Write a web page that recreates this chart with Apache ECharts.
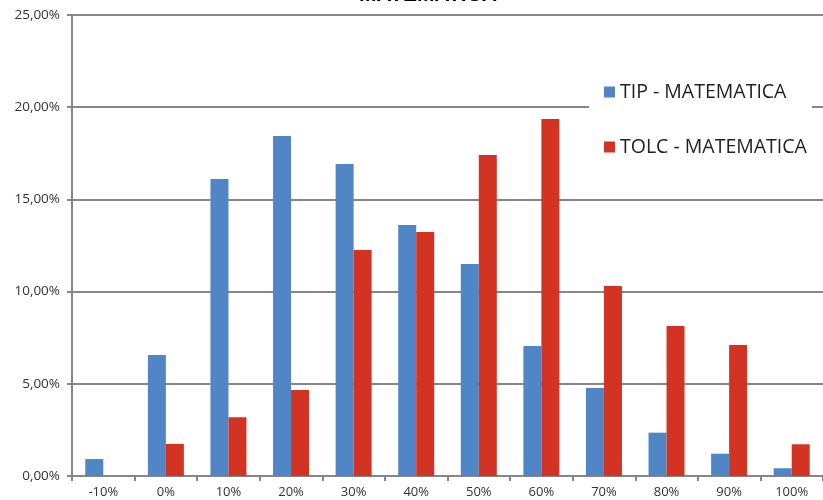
<!DOCTYPE html>
<html><head><meta charset="utf-8">
<script src="https://cdn.jsdelivr.net/npm/echarts@6/dist/echarts.min.js"></script>
<style>html,body{margin:0;padding:0;background:#fff}#c{width:823px;height:500px}</style>
</head><body><div id="c"></div>
<script>
const categories = ['-10%','0%','10%','20%','30%','40%','50%','60%','70%','80%','90%','100%'];
const tipValues = [0.92, 6.56, 16.10, 18.44, 16.92, 13.61, 11.50, 7.05, 4.77, 2.35, 1.21, 0.42];
const tolcValues = [0, 1.74, 3.18, 4.66, 12.26, 13.23, 17.41, 19.36, 10.30, 8.13, 7.10, 1.72];
const seriesNames = ['TIP - MATEMATICA', 'TOLC - MATEMATICA'];
const titleText = 'MATEMATICA';

const chart = echarts.init(document.getElementById('c'));
const font = '"Open Sans", Lato, sans-serif';
chart.setOption({
  animation: false,
  title: { text: titleText, left: 423, textAlign: 'center', top: -20,
    textStyle: { fontFamily: 'Liberation Sans', fontWeight: 'bold', fontSize: 21, color: '#000' } },
  legend: {
    orient: 'vertical', left: 589, top: 78, itemGap: 35,
    itemWidth: 11, itemHeight: 11, icon: 'rect',
    backgroundColor: '#fff', padding: [4, 5, 4, 15],
    textStyle: { fontFamily: font, fontSize: 19.5, color: '#222' },
    data: seriesNames
  },
  grid: { left: 72, right: 0, top: 15, bottom: 24, containLabel: false },
  xAxis: {
    type: 'category', data: categories,
    axisLine: { lineStyle: { color: '#868686', width: 2 } },
    axisTick: { show: true, length: 5, interval: 0, lineStyle: { color: '#868686', width: 2 } },
    axisLabel: { interval: 0, margin: 10, fontFamily: font, fontSize: 13, color: '#333' }
  },
  yAxis: {
    type: 'value', min: 0, max: 25, interval: 5,
    axisLine: { show: true, lineStyle: { color: '#868686', width: 2 } },
    axisTick: { show: true, length: 5, lineStyle: { color: '#868686', width: 2 } },
    splitLine: { lineStyle: { color: '#868686', width: 2 } },
    axisLabel: { margin: 12, fontFamily: font, fontSize: 13.5, color: '#333',
      formatter: v => v.toFixed(2).replace('.', ',') + '%' }
  },
  series: [
    { name: seriesNames[0], type: 'bar', data: tipValues, barWidth: 18, barGap: '0%',
      itemStyle: { color: '#5086C6' } },
    { name: seriesNames[1], type: 'bar', data: tolcValues, barWidth: 18, barGap: '0%',
      itemStyle: { color: '#D23323' } }
  ]
});
</script></body></html>
